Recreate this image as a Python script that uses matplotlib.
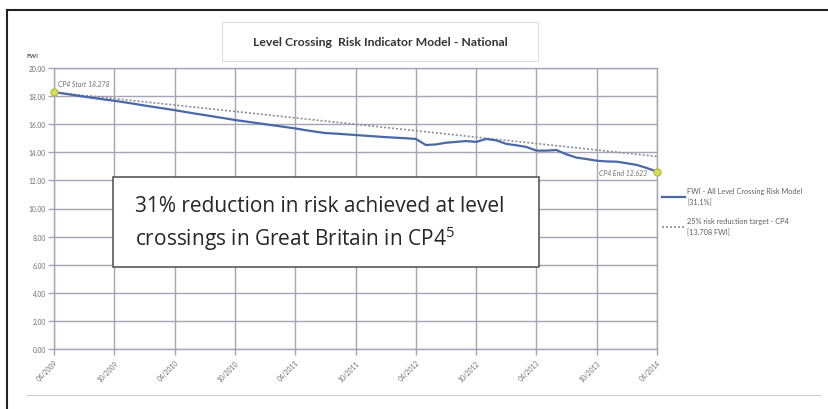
import numpy as np
import matplotlib
matplotlib.use("Agg")
import matplotlib.pyplot as plt
from matplotlib.lines import Line2D
from matplotlib.patches import Rectangle

plt.rcParams['font.family'] = ['Lato', 'DejaVu Sans']
plt.rcParams['mathtext.fontset'] = 'custom'
plt.rcParams['mathtext.rm'] = 'Open Sans'

# monthly FWI values, 04/2009 .. 04/2014
fwi = [18.28, 18.18, 18.07, 17.96, 17.86, 17.76, 17.67, 17.56, 17.45, 17.33,
       17.22, 17.11, 17.00, 16.88, 16.76, 16.65, 16.53, 16.42, 16.30, 16.20,
       16.10, 16.00, 15.90, 15.80, 15.70, 15.58, 15.47, 15.37, 15.33, 15.28,
       15.23, 15.18, 15.13, 15.08, 15.04, 15.00, 14.95, 14.52, 14.56, 14.68,
       14.74, 14.80, 14.74, 14.95, 14.85, 14.60, 14.50, 14.38, 14.12, 14.12,
       14.16, 13.85, 13.62, 13.52, 13.40, 13.35, 13.33, 13.22, 13.10, 12.88,
       12.62]
target_start = 18.278
target_end = 13.708
cp4_start = 18.278
cp4_end = 12.623
tick_labels = ['04/2009', '10/2009', '04/2010', '10/2010', '04/2011', '10/2011',
               '04/2012', '10/2012', '04/2013', '10/2013', '04/2014']
y_ticks = [0, 2, 4, 6, 8, 10, 12, 14, 16, 18, 20]

months = np.arange(len(fwi))
target = [target_start, target_end]
target_x = [months[0], months[-1]]

W, H = 829, 410
fig = plt.figure(figsize=(W / 100, H / 100), dpi=100)
fig.patch.set_facecolor('white')

def fx(px):
    return px / W

def fy(py):
    return 1 - py / H

ax = fig.add_axes([fx(54), fy(350), fx(657) - fx(54), fy(69) - fy(350)])

gridc = '#a5a5b6'
ax.set_xlim(0, 60)
ax.set_ylim(0, 20)
ax.set_xticks(np.arange(0, 61, 6))
ax.set_xticklabels(tick_labels, rotation=45, ha='right', va='top',
                   rotation_mode='anchor', fontsize=4.8, color='#707070')
ax.set_yticks(y_ticks)
ax.set_yticklabels(['%.2f' % v for v in y_ticks], fontsize=4.8, color='#707070')
ax.grid(True, color=gridc, lw=1.0)
ax.set_axisbelow(True)
for s in ax.spines.values():
    s.set_color(gridc)
    s.set_linewidth(1.0)
ax.tick_params(axis='both', length=4, width=1.0, color=gridc, pad=2)
ax.tick_params(axis='x', pad=3)

ax.plot(target_x, target, linestyle=(0, (1.2, 1.2)), color='#8c8c96', lw=1.2,
        label='25% risk reduction target - CP4\n[13.708 FWI]')
ax.plot(months, fwi, color='#4a68a8', lw=1.6,
        label='FWI - All Level Crossing Risk Model\n[31.1%]')
ax.plot([months[0], months[-1]], [cp4_start, cp4_end], linestyle='none',
        marker='o', ms=5, mfc='#d6df5a', mec='#b5c040', clip_on=False, zorder=5)

ax.text(0.4, 18.75, 'CP4 Start 18.278', fontsize=5, style='italic',
        color='#707070')
ax.text(59, 12.8, 'CP4 End 12.623', fontsize=5, style='italic',
        color='#707070', ha='right', va='top')

handles, labels = ax.get_legend_handles_labels()
leg = fig.legend(handles[::-1], labels[::-1], loc='upper left',
                 bbox_to_anchor=(fx(655), fy(181)), frameon=False,
                 fontsize=5.3, handlelength=3.2, labelspacing=1.5,
                 handletextpad=0.3)
for t in leg.get_texts():
    t.set_color('#606060')
    t.set_linespacing(1.7)

# title box
fig.patches.append(Rectangle((fx(222), fy(62)), fx(538) - fx(222), fy(23) - fy(62),
                             transform=fig.transFigure, fill=False,
                             edgecolor='#e0e0e0', lw=0.8))
fig.text(fx(380), fy(42), 'Level Crossing  Risk Indicator Model - National',
         ha='center', va='center', fontsize=8.8, fontweight='bold', color='#333333')
fig.text(fx(27), fy(57), 'FWI', fontsize=4.5, fontweight='bold',
         color='#555555', va='center')

# annotation box
fig.patches.append(Rectangle((fx(113), fy(268)), fx(539) - fx(113), fy(178) - fy(268),
                             transform=fig.transFigure, facecolor='white',
                             edgecolor='#5a5a5a', lw=1.2, zorder=10))
fig.text(fx(135), fy(212), '31% reduction in risk achieved at level',
         fontsize=15, color='#262626', va='baseline', zorder=11,
         family=['Open Sans', 'DejaVu Sans'])
fig.text(fx(135), fy(246), 'crossings in Great Britain in CP4$^{5}$',
         fontsize=15, color='#262626', va='baseline', zorder=11,
         family=['Open Sans', 'DejaVu Sans'])

# page frame lines
fig.lines.append(Line2D([fx(7), fx(829)], [fy(11), fy(11)],
                        transform=fig.transFigure, color='#222222', lw=1.5))
fig.lines.append(Line2D([fx(7), fx(7)], [fy(11), fy(410)],
                        transform=fig.transFigure, color='#222222', lw=1.5))
fig.lines.append(Line2D([fx(27), fx(820)], [fy(396), fy(396)],
                        transform=fig.transFigure, color='#cccccc', lw=0.8))

fig.savefig('out.png', dpi=100)
